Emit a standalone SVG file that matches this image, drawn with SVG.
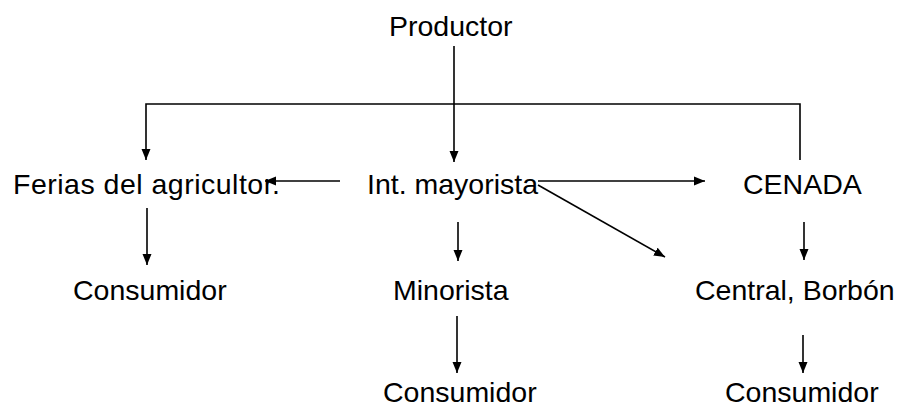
<svg xmlns="http://www.w3.org/2000/svg" width="903" height="407" viewBox="0 0 903 407">
<defs>
<marker id="ah" markerUnits="userSpaceOnUse" markerWidth="12" markerHeight="10" refX="11" refY="5" orient="auto">
<path d="M0,0.5 L11,5 L0,9.5 Z" fill="#000"/>
</marker>
<style>
text{font-family:"Liberation Sans",Arial,sans-serif;font-size:28.5px;fill:#000}
.c{fill:none;stroke:#000;stroke-width:1.6}
.a{marker-end:url(#ah)}
</style>
</defs>
<rect width="903" height="407" fill="#fff"/>
<g id="productor"><text x="389" y="36">Productor</text></g>
<g id="ferias"><text x="13" y="194" textLength="267" lengthAdjust="spacing">Ferias del agricultor.</text></g>
<g id="intmayorista"><text x="367" y="194">Int. mayorista</text></g>
<g id="cenada"><text x="743" y="194">CENADA</text></g>
<g id="consumidor1"><text x="73" y="300">Consumidor</text></g>
<g id="minorista"><text x="393" y="300">Minorista</text></g>
<g id="central"><text x="695" y="300">Central, Borbón</text></g>
<g id="consumidor2"><text x="383" y="402">Consumidor</text></g>
<g id="consumidor3"><text x="725" y="402">Consumidor</text></g>
<g id="connectors">
<path class="c a" d="M454,46 V162"/>
<path class="c a" d="M800,160 V104 H146 V160"/>
<path class="c a" d="M340,181 H265"/>
<path class="c a" d="M538,181 H705"/>
<path class="c a" d="M538,185 L665,257"/>
<path class="c a" d="M147,208 V265"/>
<path class="c a" d="M458,222 V261"/>
<path class="c a" d="M804,222 V260"/>
<path class="c a" d="M457,316 V373"/>
<path class="c a" d="M803,335 V373"/>
</g>
</svg>
